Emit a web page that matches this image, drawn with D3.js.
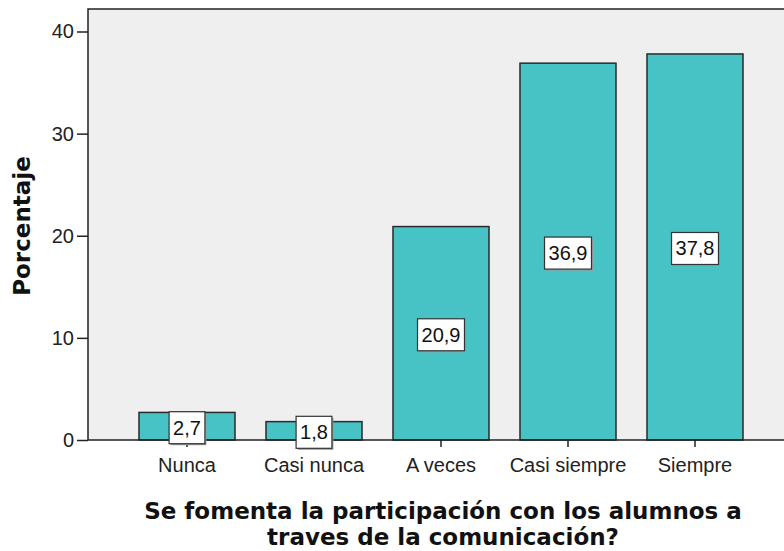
<!DOCTYPE html>
<html>
<head>
<meta charset="utf-8">
<script src="https://cdn.jsdelivr.net/npm/d3@7"></script>
<style>
  body { margin: 0; background: #fff; }
  .tick text { font-family: "Liberation Sans", Arial, sans-serif; font-size: 20px; fill: #222; }
  .axis-title { font-family: "DejaVu Sans", Verdana, sans-serif; font-weight: bold; font-size: 23px; fill: #111; }
  .lbl { font-family: "Liberation Sans", Arial, sans-serif; font-size: 20px; fill: #111; }
</style>
</head>
<body>
<svg id="chart"></svg>
<script>
var width = 784,
    height = 551;

var categories = ["Nunca", "Casi nunca", "A veces", "Casi siempre", "Siempre"];
var values = [2.7, 1.8, 20.9, 36.9, 37.8];
var yTicks = [0, 10, 20, 30, 40];
var xTitle = ["Se fomenta la participación con los alumnos a", "traves de la comunicación?"];
var yTitle = "Porcentaje";

var svg = d3.select("#chart")
    .attr("width", width)
    .attr("height", height);

var x = d3.scaleBand()
    .domain(categories)
    .range([123.5, 758.5])
    .paddingInner(0.244)
    .paddingOuter(0.122);

var y = d3.scaleLinear()
    .domain([0, 40])
    .range([440, 31.5]);

// plot background
svg.append("rect")
    .attr("x", 88)
    .attr("y", 9)
    .attr("width", width - 88 + 5)
    .attr("height", 440 - 9)
    .attr("fill", "#efefef");

svg.append("path")
    .attr("d", "M88,440V9H" + (width + 5))
    .attr("fill", "none")
    .attr("stroke", "#222")
    .attr("stroke-width", 1.5);

// y axis
var yAxis = svg.append("g")
    .attr("transform", "translate(88,0)")
    .call(d3.axisLeft(y).tickValues(yTicks).tickSize(11).tickPadding(3));
yAxis.select(".domain").remove();
yAxis.selectAll(".tick line").attr("stroke", "#222").attr("stroke-width", 1.5);

// bars
svg.selectAll(".bar")
    .data(values)
    .enter()
    .append("rect")
    .attr("class", "bar")
    .attr("x", (d, i) => x(categories[i]))
    .attr("y", (d) => y(d))
    .attr("width", x.bandwidth())
    .attr("height", (d) => y(0) - y(d))
    .attr("fill", "#47c2c5")
    .attr("stroke", "#2a2a2a")
    .attr("stroke-width", 1.5);

// x axis
var xAxis = svg.append("g")
    .attr("transform", "translate(0,440)")
    .call(d3.axisBottom(x).tickSize(7).tickPadding(11));
xAxis.select(".domain")
    .attr("d", "M88,0H" + (width + 5))
    .attr("stroke", "#222")
    .attr("stroke-width", 1.5);
xAxis.selectAll(".tick line").attr("stroke", "#222").attr("stroke-width", 1.5);

// value labels
var labels = svg.selectAll(".label")
    .data(values)
    .enter()
    .append("g")
    .attr("class", "label")
    .attr("transform", (d, i) => "translate(" + (x(categories[i]) + x.bandwidth() / 2) + "," + (y(d / 2) + 1.5) + ")");

labels.each(function(d) {
    var g = d3.select(this);
    var t = g.append("text")
        .attr("class", "lbl")
        .attr("text-anchor", "middle")
        .attr("dy", "0.35em")
        .text(d3.format(".1f")(d).replace(".", ","));
    var w = t.node().getComputedTextLength() + 8;
    g.insert("rect", "text")
        .attr("x", -w / 2 + 1.5)
        .attr("y", -16 + 1.5)
        .attr("width", w)
        .attr("height", 32)
        .attr("fill", "#9a9a9a");
    g.insert("rect", "text")
        .attr("x", -w / 2)
        .attr("y", -16)
        .attr("width", w)
        .attr("height", 32)
        .attr("fill", "#fff")
        .attr("stroke", "#333")
        .attr("stroke-width", 1.2);
});

// axis titles
svg.append("text")
    .attr("class", "axis-title")
    .attr("text-anchor", "middle")
    .attr("transform", "translate(30,226) rotate(-90)")
    .text(yTitle);

svg.append("text")
    .attr("class", "axis-title")
    .attr("text-anchor", "middle")
    .selectAll("tspan")
    .data(xTitle)
    .enter()
    .append("tspan")
    .attr("x", 443)
    .attr("y", (d, i) => 519 + i * 26)
    .text((d) => d);
</script>
</body>
</html>
